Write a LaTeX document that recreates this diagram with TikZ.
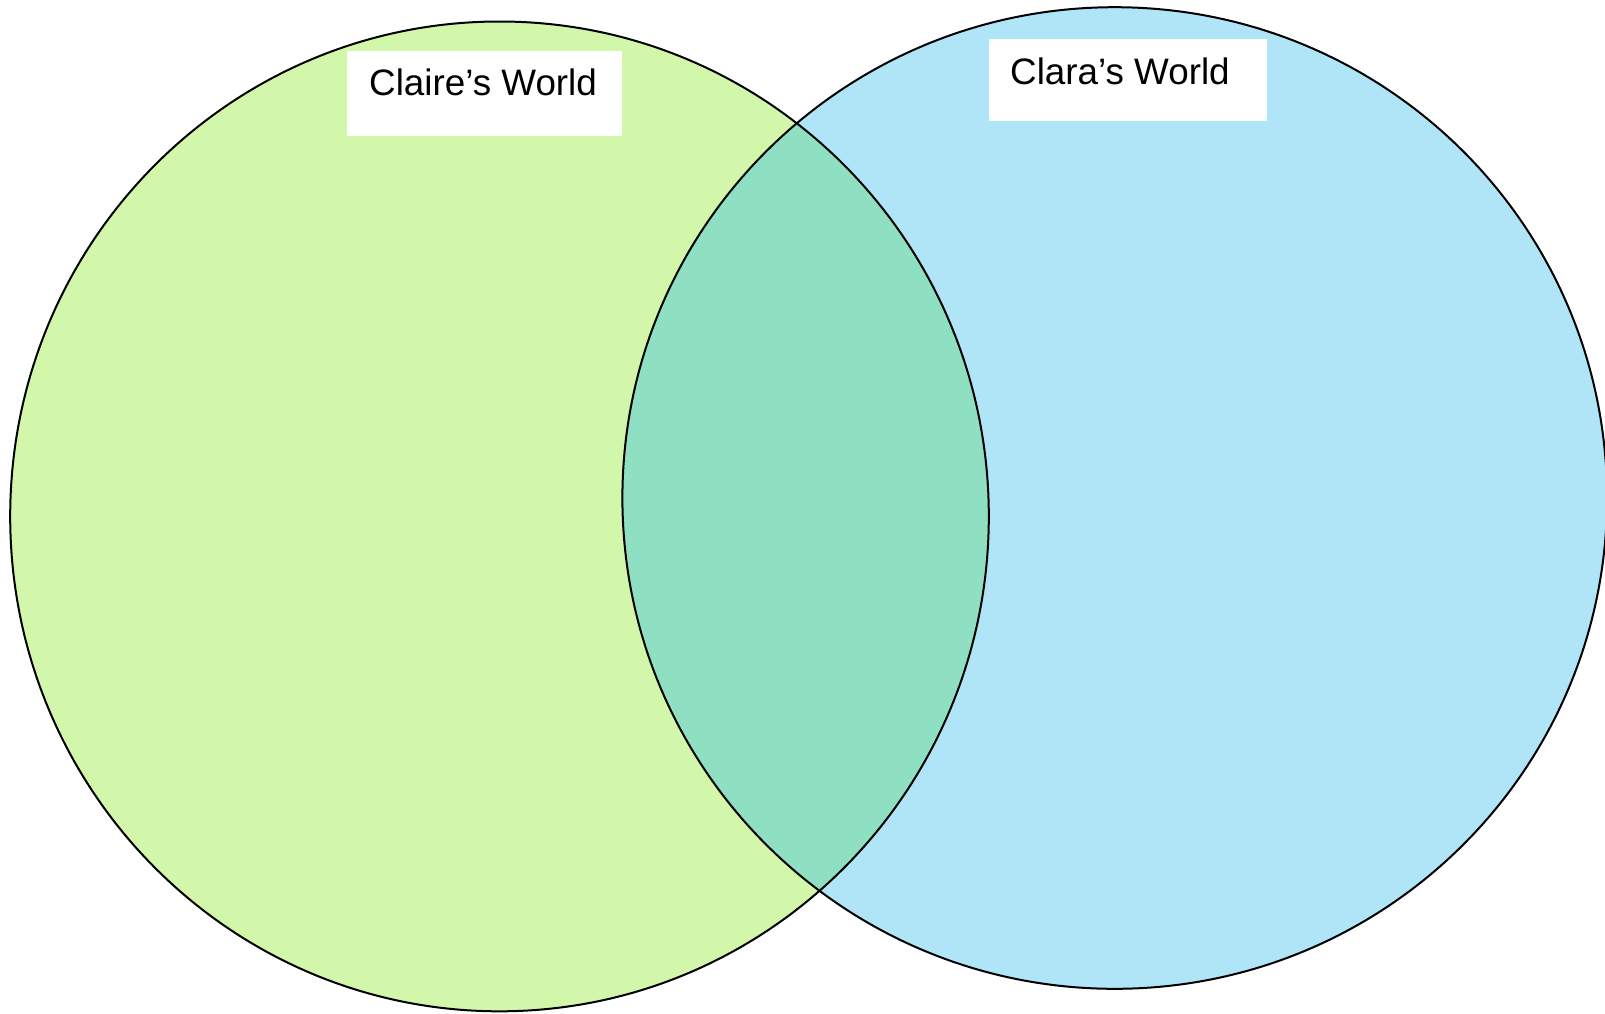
\documentclass[tikz,border=0pt]{standalone}
\usepackage{fontspec}
\setmainfont{Liberation Sans}
\definecolor{leftgreen}{HTML}{D2F7AB}
\definecolor{rightblue}{HTML}{B0E5F8}
\definecolor{overlapgreen}{HTML}{8FE0C2}
\begin{document}
\begin{tikzpicture}[x=1pt,y=-1pt,
  outline/.style={draw=black,line width=2pt},
  labelbox/.style={fill=white},
  labeltext/.style={anchor=base west,inner sep=0pt,font=\fontsize{36.8pt}{44pt}\selectfont}]
\useasboundingbox (0,0) rectangle (1605,1013);
\fill[white] (0,0) rectangle (1605,1013);
% fills
\fill[leftgreen] (499.5,516.4) ellipse [x radius=489.3pt, y radius=494.9pt];
\fill[rightblue] (1114.7,498) ellipse [x radius=492.3pt, y radius=490.8pt];
\begin{scope}
  \clip (499.5,516.4) ellipse [x radius=489.3pt, y radius=494.9pt];
  \fill[overlapgreen] (1114.7,498) ellipse [x radius=492.3pt, y radius=490.8pt];
\end{scope}
% outlines
\draw[outline] (499.5,516.4) ellipse [x radius=489.3pt, y radius=494.9pt];
\draw[outline] (1114.7,498) ellipse [x radius=492.3pt, y radius=490.8pt];
% labels
\fill[labelbox] (347,51) rectangle (622,136);
\node[labeltext] (claire) at (369,95.7) {Claire’s World};
\fill[labelbox] (989,39) rectangle (1267,121);
\node[labeltext] (clara) at (1010,84) {Clara’s World};
\end{tikzpicture}
\end{document}
